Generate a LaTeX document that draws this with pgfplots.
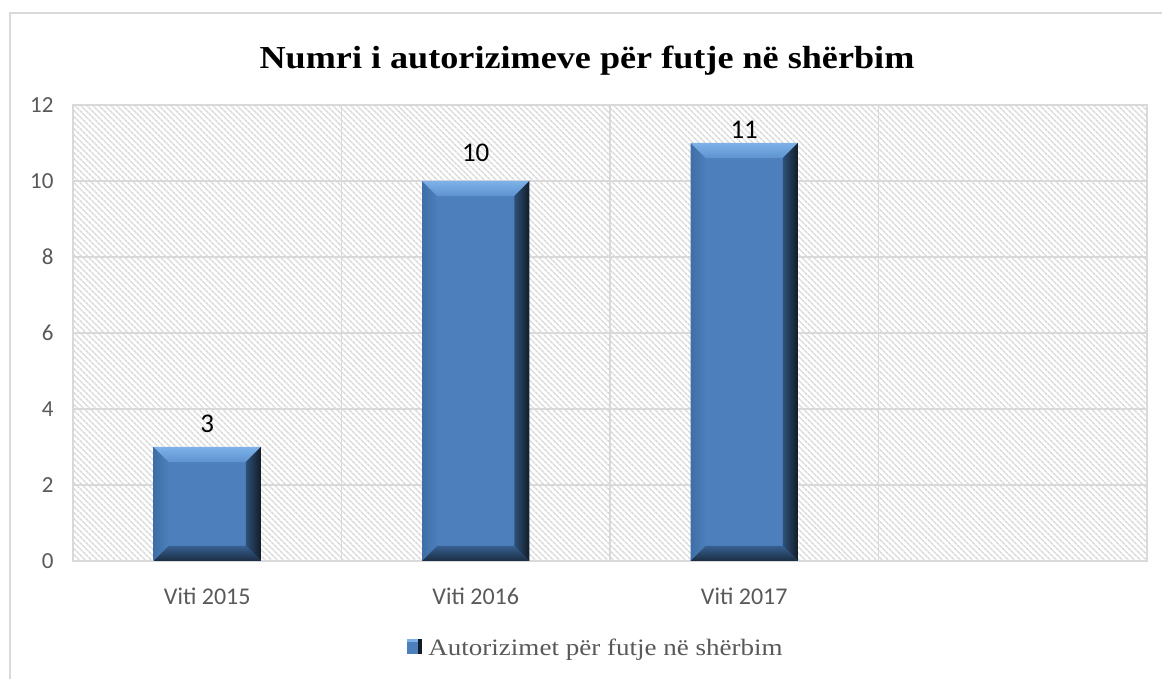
\documentclass[border=0pt]{standalone}
\usepackage{fontspec}
\setmainfont{Liberation Serif}
\newfontfamily\calibri{Carlito}
\usepackage{pgfplots}
\pgfplotsset{compat=1.18}
\usetikzlibrary{patterns.meta}
\definecolor{barmain}{HTML}{4C7FBB}
\definecolor{barleftA}{HTML}{3F6EA6}
\definecolor{bartopA}{HTML}{7DB1E8}
\definecolor{bartopB}{HTML}{5E93D0}
\definecolor{barrightA}{HTML}{2E5078}
\definecolor{barrightB}{HTML}{121C27}
\definecolor{barbotA}{HTML}{375F8F}
\definecolor{barbotB}{HTML}{1A2C42}
\definecolor{gridgray}{HTML}{D9D9D9}
\definecolor{hatch}{HTML}{DCDCDC}
\definecolor{tickgray}{HTML}{595959}
\pgfplotsset{
 bevL/.style={draw=none, mark=none, forget plot, left color=barleftA, right color=barmain},
 bevT/.style={draw=none, mark=none, forget plot, top color=bartopA, bottom color=bartopB},
 bevR/.style={draw=none, mark=none, forget plot, left color=barrightA, right color=barrightB},
 bevB/.style={draw=none, mark=none, forget plot, top color=barbotA, bottom color=barbotB},
 mybar/.style={ybar, bar width=0.4, bar shift=0pt, fill=barmain, draw=none,
   nodes near coords, nodes near coords style={font=\calibri\fontsize{27}{31}\selectfont, text=black, anchor=base, yshift=#1}},
}
\begin{document}
\begin{tikzpicture}
\fill[white] (0,0) rectangle (1162pt,679pt);
\draw[gridgray, line width=1.5pt] (10pt,-2pt) -- (10pt,666pt) -- (1164pt,666pt);
\begin{axis}[
 at={(73pt,118pt)}, anchor=south west,
 scale only axis, width=1074pt, height=456pt,
 xmin=-0.5, xmax=3.5, ymin=0, ymax=12,
 xtick={0,1,2,3}, xticklabels={Viti 2015,Viti 2016,Viti 2017,{}},
 minor xtick={0.5,1.5,2.5},
 ytick={0,2,...,12},
 /pgf/number format/assume math mode=true,
 major tick length=0pt, minor tick length=0pt,
 ymajorgrids, xminorgrids,
 grid style={draw=gridgray, line width=1.5pt},
 minor grid style={draw=gridgray, line width=1.5pt},
 axis line style={draw=gridgray, line width=1.5pt},
 xticklabel style={font=\calibri\fontsize{24}{28}\selectfont, text=tickgray, anchor=base, yshift=-44pt},
 yticklabel style={font=\calibri\fontsize{23}{27}\selectfont, text=tickgray, xshift=-16pt},
 axis background/.style={pattern={Lines[angle=-45,distance=4pt,line width=1.7pt]}, pattern color=hatch},
 legend style={at={(0.487,-0.19)}, anchor=center, draw=none, fill=none, font=\fontsize{23.5}{28}\selectfont\addfontfeature{FakeStretch=1.15}, text=tickgray},
 legend image code/.code={\fill[barmain] (0pt,-6pt) rectangle (15pt,9pt); \fill[barrightB] (11pt,-6pt) rectangle (15pt,9pt); \fill[bartopA] (0pt,6pt) rectangle (11pt,9pt);},
]
% bars (data)
\addplot[mybar=14pt] coordinates {(0,3)};
\addlegendentry{\hspace{4pt}Autorizimet për futje në shërbim}
\addplot[mybar=19pt, forget plot] coordinates {(1,10)};
\addplot[mybar=4pt, forget plot] coordinates {(2,11)};
% bevel faces, bar 2015 (value 3)
\addplot[bevL] coordinates {(-0.2,0) (-0.2,3) (-0.144,2.605) (-0.144,0.395)} -- cycle;
\addplot[bevT] coordinates {(-0.2,3) (0.2,3) (0.144,2.605) (-0.144,2.605)} -- cycle;
\addplot[bevR] coordinates {(0.144,2.605) (0.2,3) (0.2,0) (0.144,0.395)} -- cycle;
\addplot[bevB] coordinates {(-0.144,0.395) (0.144,0.395) (0.2,0) (-0.2,0)} -- cycle;
% bevel faces, bar 2016 (value 10)
\addplot[bevL] coordinates {(0.8,0) (0.8,10) (0.856,9.605) (0.856,0.395)} -- cycle;
\addplot[bevT] coordinates {(0.8,10) (1.2,10) (1.144,9.605) (0.856,9.605)} -- cycle;
\addplot[bevR] coordinates {(1.144,9.605) (1.2,10) (1.2,0) (1.144,0.395)} -- cycle;
\addplot[bevB] coordinates {(0.856,0.395) (1.144,0.395) (1.2,0) (0.8,0)} -- cycle;
% bevel faces, bar 2017 (value 11)
\addplot[bevL] coordinates {(1.8,0) (1.8,11) (1.856,10.605) (1.856,0.395)} -- cycle;
\addplot[bevT] coordinates {(1.8,11) (2.2,11) (2.144,10.605) (1.856,10.605)} -- cycle;
\addplot[bevR] coordinates {(2.144,10.605) (2.2,11) (2.2,0) (2.144,0.395)} -- cycle;
\addplot[bevB] coordinates {(1.856,0.395) (2.144,0.395) (2.2,0) (1.8,0)} -- cycle;
\end{axis}
\node[anchor=base, font=\bfseries\fontsize{32}{37}\selectfont\addfontfeature{FakeStretch=1.13}] at (587pt,610pt) {Numri i autorizimeve për futje në shërbim};
\pgfresetboundingbox
\useasboundingbox (0,0) rectangle (1162pt,679pt);
\end{tikzpicture}
\end{document}
